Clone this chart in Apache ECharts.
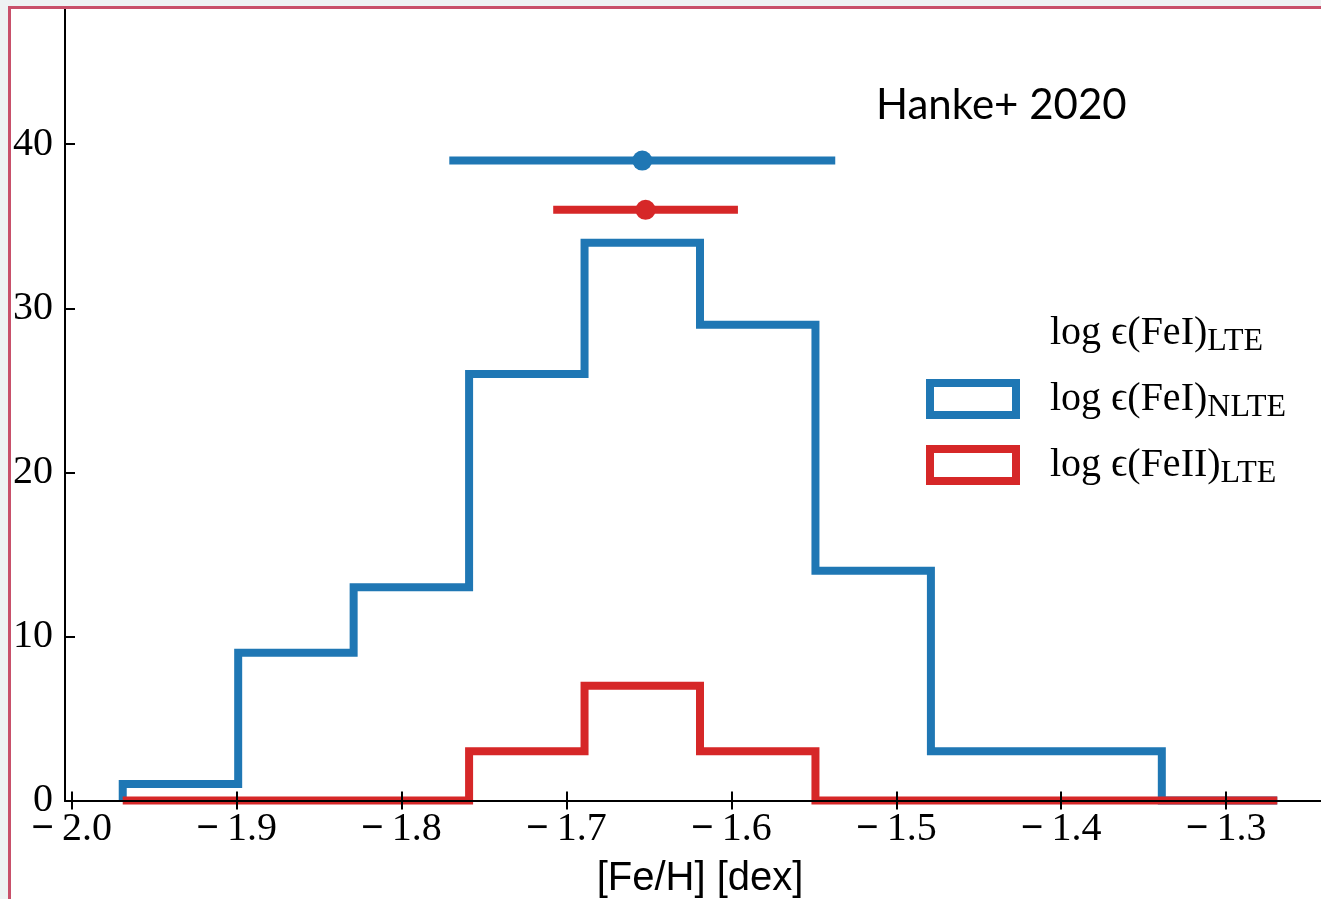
<!DOCTYPE html>
<html>
<head>
<meta charset="utf-8">
<script src="https://cdn.jsdelivr.net/npm/echarts@6/dist/echarts.min.js"></script>
<style>
  html, body { margin: 0; padding: 0; width: 1321px; height: 899px; overflow: hidden; background: #eef2f3; }
  #panel { position: absolute; left: 11px; top: 9px; width: 1400px; height: 1000px; background: #ffffff; }
  #chart { position: absolute; left: 0; top: 0; width: 1360px; height: 899px; }
  #edge { position: absolute; left: 8px; top: 6px; width: 1400px; height: 1000px;
          border-left: 3px solid #c8506a; border-top: 3px solid #c8506a; pointer-events: none; }
</style>
</head>
<body>
<div id="panel"></div>
<div id="chart"></div>
<div id="edge"></div>
<script>
// Histogram bin edges in [Fe/H] (dex)
const binEdges = [-1.969, -1.899, -1.829, -1.759, -1.689, -1.619, -1.549, -1.479, -1.409, -1.339, -1.269];
// Star counts per bin
const countsFeINLTE = [1, 9, 13, 26, 34, 29, 14, 3, 3, 0];
const countsFeIILTE = [0, 0, 0, 3, 7, 3, 0, 0, 0, 0];
// Mean [Fe/H] with spread, drawn above the histograms
const meanFeINLTE = -1.654, spreadFeINLTE = 0.117, levelFeINLTE = 39;
const meanFeIILTE = -1.652, spreadFeIILTE = 0.056, levelFeIILTE = 36;
// Axis ticks
const xTicks = [-2.0, -1.9, -1.8, -1.7, -1.6, -1.5, -1.4, -1.3];
const yTicks = [0, 10, 20, 30, 40];
// Legend entries: [main text, subscript]
const legendNames = ['FeI_LTE', 'FeI_NLTE', 'FeII_LTE'];
const legendText = {
  FeI_LTE: ['log \u03f5(FeI)', 'LTE'],
  FeI_NLTE: ['log \u03f5(FeI)', 'NLTE'],
  FeII_LTE: ['log \u03f5(FeII)', 'LTE']
};

const BLUE = '#1f77b4';
const RED = '#d62728';
const SERIF = '"Liberation Serif", "DejaVu Serif", serif';

// Outline of a step histogram: up the first edge, across each bin, down the last edge
function stepOutline(edges, counts) {
  const pts = [[edges[0], 0]];
  for (let i = 0; i < counts.length; i++) {
    pts.push([edges[i], counts[i]], [edges[i + 1], counts[i]]);
  }
  pts.push([edges[edges.length - 1], 0]);
  return pts;
}

function tickLabel(v) {
  const s = Math.abs(v).toFixed(1);
  return v < 0 ? '{neg|\u2212}{num|' + s + '}' : '{num|' + s + '}';
}

const axisCommon = {
  axisLine: { show: true, lineStyle: { color: '#000', width: 2 } },
  splitLine: { show: false },
  z: 10
};

const chart = echarts.init(document.getElementById('chart'), null, { renderer: 'canvas' });
chart.setOption({
  animation: false,
  backgroundColor: 'transparent',
  grid: { left: 65, top: 8, width: 1270, height: 792.5, outerBoundsMode: 'none', containLabel: false },
  title: {
    text: 'Hanke+ 2020', left: 871, top: 79,
    textStyle: { fontFamily: 'Lato', fontSize: 42, fontWeight: 'normal', color: '#000' }
  },
  legend: {
    data: [
      { name: legendNames[0], itemStyle: { color: 'rgba(0,0,0,0)', borderWidth: 0 } },
      { name: legendNames[1], itemStyle: { color: '#fff', borderColor: BLUE, borderWidth: 8 } },
      { name: legendNames[2], itemStyle: { color: '#fff', borderColor: RED, borderWidth: 8 } }
    ],
    orient: 'vertical', left: 921, top: 303,
    icon: 'rect', itemWidth: 86, itemHeight: 32, itemGap: 16,
    selectedMode: false,
    formatter: name => '{m|' + legendText[name][0] + '}{s|' + legendText[name][1] + '}',
    textStyle: {
      rich: {
        m: { fontFamily: SERIF, fontSize: 40, lineHeight: 50, color: '#000', padding: [0, 0, 0, 29] },
        s: { fontFamily: SERIF, fontSize: 32, lineHeight: 32, color: '#000', padding: [18, 0, 0, 0] }
      }
    }
  },
  xAxis: [
    Object.assign({
      type: 'value', position: 'bottom', min: -2.004, max: -1.234,
      name: '[Fe/H] [dex]', nameLocation: 'middle', nameGap: 58,
      nameTextStyle: { fontFamily: '"Liberation Sans", Arial, sans-serif', fontSize: 40, color: '#000' },
      axisTick: { show: true, inside: true, length: 9, lineStyle: { color: '#000', width: 2 }, customValues: xTicks },
      axisLabel: {
        show: true, margin: 9, customValues: xTicks, formatter: tickLabel,
        rich: {
          neg: { fontFamily: SERIF, fontSize: 40, fontWeight: 'bold', color: '#000', padding: [0, 8, 0, 0] },
          num: { fontFamily: SERIF, fontSize: 40, color: '#000' }
        }
      }
    }, axisCommon),
    Object.assign({
      type: 'value', position: 'top', min: -2.004, max: -1.234,
      axisTick: { show: true, inside: true, length: 9, lineStyle: { color: '#000', width: 2 }, customValues: xTicks },
      axisLabel: { show: false }
    }, axisCommon)
  ],
  yAxis: [
    Object.assign({
      type: 'value', position: 'left', min: 0, max: 48.3,
      axisTick: { show: true, inside: true, length: 10, lineStyle: { color: '#000', width: 2 }, customValues: yTicks },
      axisLabel: {
        show: true, margin: 12, customValues: yTicks,
        fontFamily: SERIF, fontSize: 40, color: '#000', padding: [5, 0, 0, 0]
      }
    }, axisCommon),
    Object.assign({
      type: 'value', position: 'right', min: 0, max: 48.3,
      axisTick: { show: true, inside: true, length: 10, lineStyle: { color: '#000', width: 2 }, customValues: yTicks },
      axisLabel: { show: false }
    }, axisCommon)
  ],
  series: [
    { name: legendNames[0], type: 'line', data: [], symbol: 'none', lineStyle: { width: 0 } },
    {
      name: legendNames[1], type: 'line', data: stepOutline(binEdges, countsFeINLTE),
      symbol: 'none', clip: false, z: 2, silent: true,
      itemStyle: { color: BLUE },
      lineStyle: { color: BLUE, width: 8, join: 'miter', cap: 'butt' }
    },
    {
      name: legendNames[2], type: 'line', data: stepOutline(binEdges, countsFeIILTE),
      symbol: 'none', clip: false, z: 3, silent: true,
      itemStyle: { color: RED },
      lineStyle: { color: RED, width: 8, join: 'miter', cap: 'butt' }
    },
    {
      name: 'spreadFeINLTE', type: 'line', symbol: 'none', silent: true, z: 4,
      data: [[meanFeINLTE - spreadFeINLTE, levelFeINLTE], [meanFeINLTE + spreadFeINLTE, levelFeINLTE]],
      lineStyle: { color: BLUE, width: 8, cap: 'butt' }
    },
    {
      name: 'spreadFeIILTE', type: 'line', symbol: 'none', silent: true, z: 4,
      data: [[meanFeIILTE - spreadFeIILTE, levelFeIILTE], [meanFeIILTE + spreadFeIILTE, levelFeIILTE]],
      lineStyle: { color: RED, width: 8, cap: 'butt' }
    },
    {
      name: 'meanFeINLTE', type: 'scatter', silent: true, z: 5, symbolSize: 20,
      data: [[meanFeINLTE, levelFeINLTE]], itemStyle: { color: BLUE, opacity: 1 }
    },
    {
      name: 'meanFeIILTE', type: 'scatter', silent: true, z: 5, symbolSize: 20,
      data: [[meanFeIILTE, levelFeIILTE]], itemStyle: { color: RED, opacity: 1 }
    }
  ]
});
</script>
</body>
</html>
